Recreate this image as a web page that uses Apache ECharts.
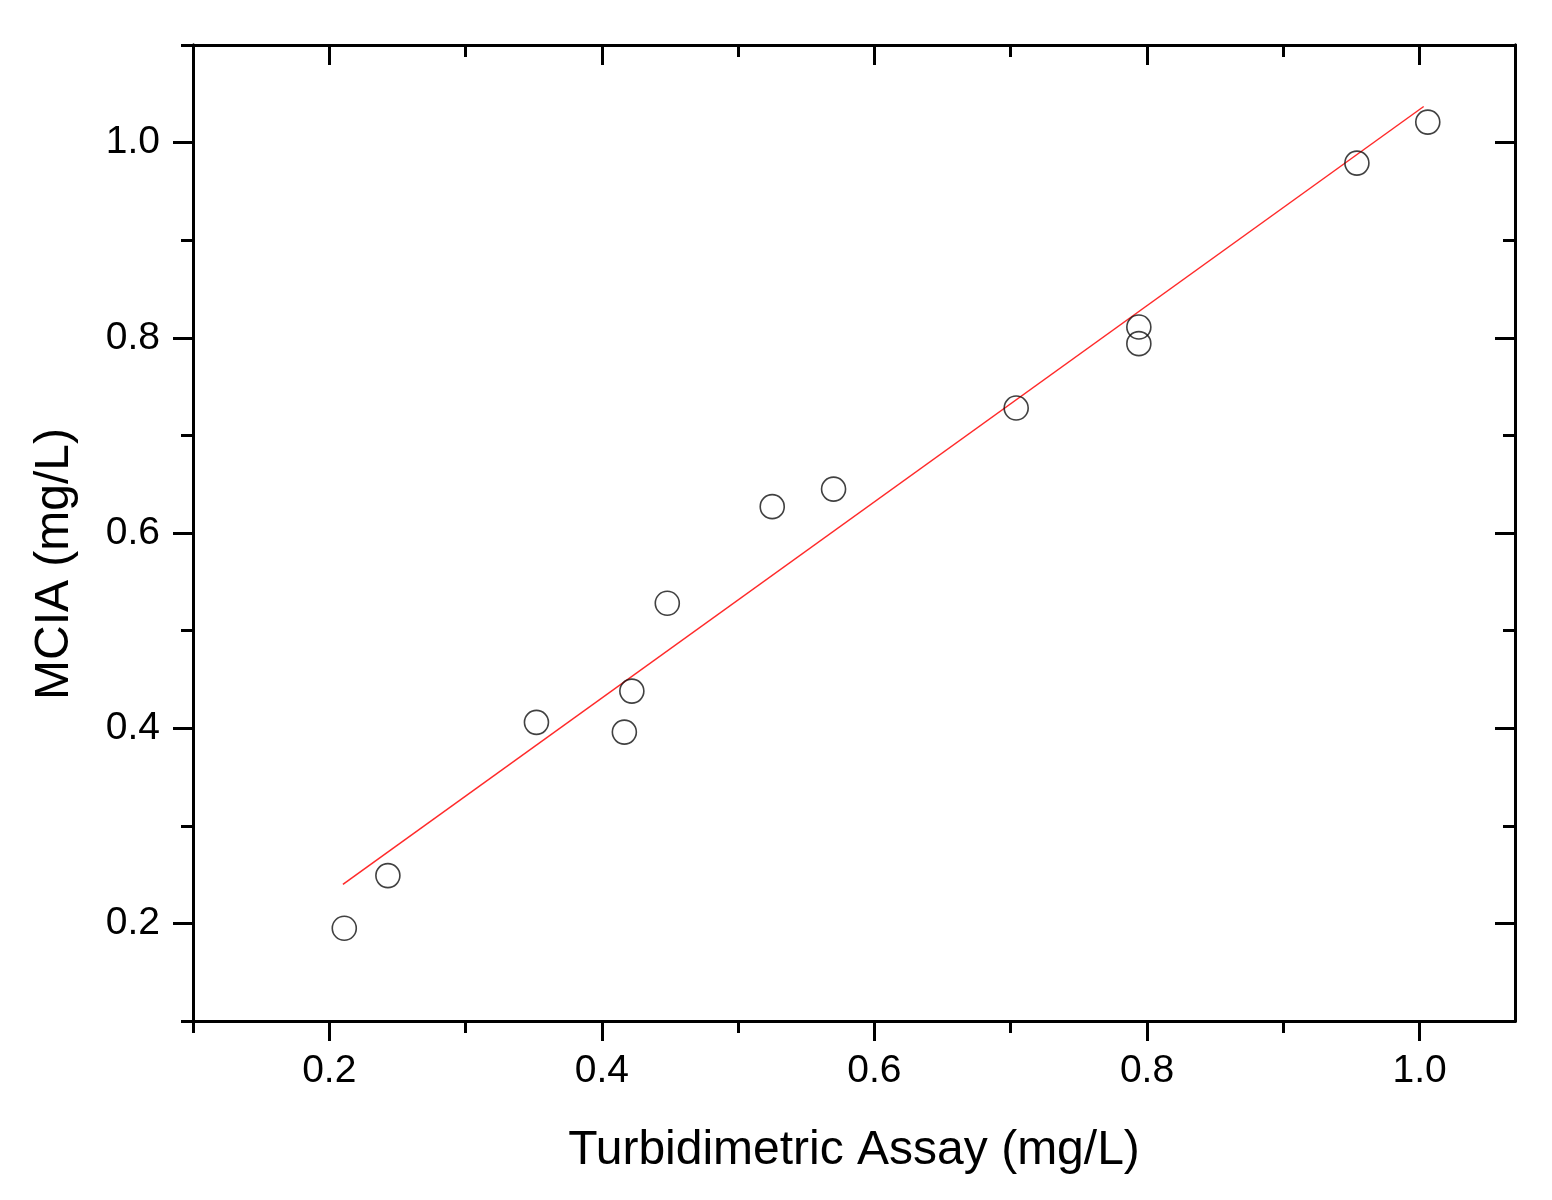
<!DOCTYPE html>
<html>
<head>
<meta charset="utf-8">
<script src="https://cdn.jsdelivr.net/npm/echarts@6/dist/echarts.min.js"></script>
<style>html,body{margin:0;padding:0;background:#fff}#c{width:1552px;height:1200px}</style>
</head>
<body>
<div id="c"></div>
<script>
const turbidimetric = [0.211, 0.243, 0.352, 0.4165, 0.422, 0.448, 0.525, 0.570, 0.704, 0.794, 0.794, 0.954, 1.006];
const mcia =          [0.195, 0.249, 0.406, 0.396, 0.438, 0.528, 0.627, 0.645, 0.728, 0.811, 0.794, 0.979, 1.021];
const fitX = [0.21, 1.003];
const fitY = [0.240, 1.037];
const xMajorTicks = [0.2, 0.4, 0.6, 0.8, 1.0];
const xMinorTicks = [0.1, 0.3, 0.5, 0.7, 0.9];
const yMajorTicks = [0.2, 0.4, 0.6, 0.8, 1.0];
const yMinorTicks = [0.1, 0.3, 0.5, 0.7, 0.9, 1.1];
const xTitle = 'Turbidimetric Assay (mg/L)';
const yTitle = 'MCIA (mg/L)';

const XMIN = 0.1, XMAX = 1.07, YMIN = 0.1, YMAX = 1.1;
const FONT = 'Liberation Sans, Arial, sans-serif';
const lineStyle = {color: '#000', width: 3};

function axis(kind, pos, ticks, len, inside, opts) {
  const isX = kind === 'x';
  return Object.assign({
    type: 'value',
    position: pos,
    min: isX ? XMIN : YMIN,
    max: isX ? XMAX : YMAX,
    interval: 0.1,
    offset: 0,
    splitLine: {show: false},
    axisLine: {show: true, onZero: false, lineStyle: lineStyle},
    axisTick: {show: true, inside: inside, length: len, customValues: ticks, lineStyle: {color: '#000', width: 3}},
    axisLabel: {show: false}
  }, opts || {});
}

const chart = echarts.init(document.getElementById('c'));
chart.setOption({
  backgroundColor: '#fff',
  animation: false,
  grid: {left: 193, right: 37, top: 45, bottom: 179, containLabel: false},
  xAxis: [
    axis('x', 'bottom', xMajorTicks, 20, false, {
      name: xTitle, nameLocation: 'middle', nameGap: 106,
      nameTextStyle: {fontFamily: FONT, fontSize: 48, color: '#000'},
      axisLabel: {show: true, customValues: xMajorTicks, margin: 31, fontFamily: FONT, fontSize: 39, color: '#000',
        formatter: v => v.toFixed(1)}
    }),
    axis('x', 'bottom', xMinorTicks, 12, false),
    axis('x', 'top', xMajorTicks, 20, true),
    axis('x', 'top', xMinorTicks, 12, true)
  ],
  yAxis: [
    axis('y', 'left', yMajorTicks, 20, false, {
      name: yTitle, nameLocation: 'middle', nameGap: 114,
      nameTextStyle: {fontFamily: FONT, fontSize: 48, color: '#000', padding: [0, 62, 0, 0]},
      axisLabel: {show: true, customValues: yMajorTicks, margin: 33, fontFamily: FONT, fontSize: 39, color: '#000',
        formatter: v => v.toFixed(1)}
    }),
    axis('y', 'left', yMinorTicks, 12, false),
    axis('y', 'right', yMajorTicks, 20, true),
    axis('y', 'right', yMinorTicks, 12, true)
  ],
  series: [
    {
      type: 'line',
      data: fitX.map((x, i) => [x, fitY[i]]),
      showSymbol: false,
      lineStyle: {color: '#ff2a2a', width: 1.5},
      z: 3
    },
    {
      type: 'scatter',
      data: turbidimetric.map((x, i) => [x, mcia[i]]),
      symbol: 'circle',
      symbolSize: 24,
      itemStyle: {color: 'rgba(0,0,0,0)', borderColor: '#111', borderWidth: 1.6},
      z: 4
    }
  ]
});
</script>
</body>
</html>
